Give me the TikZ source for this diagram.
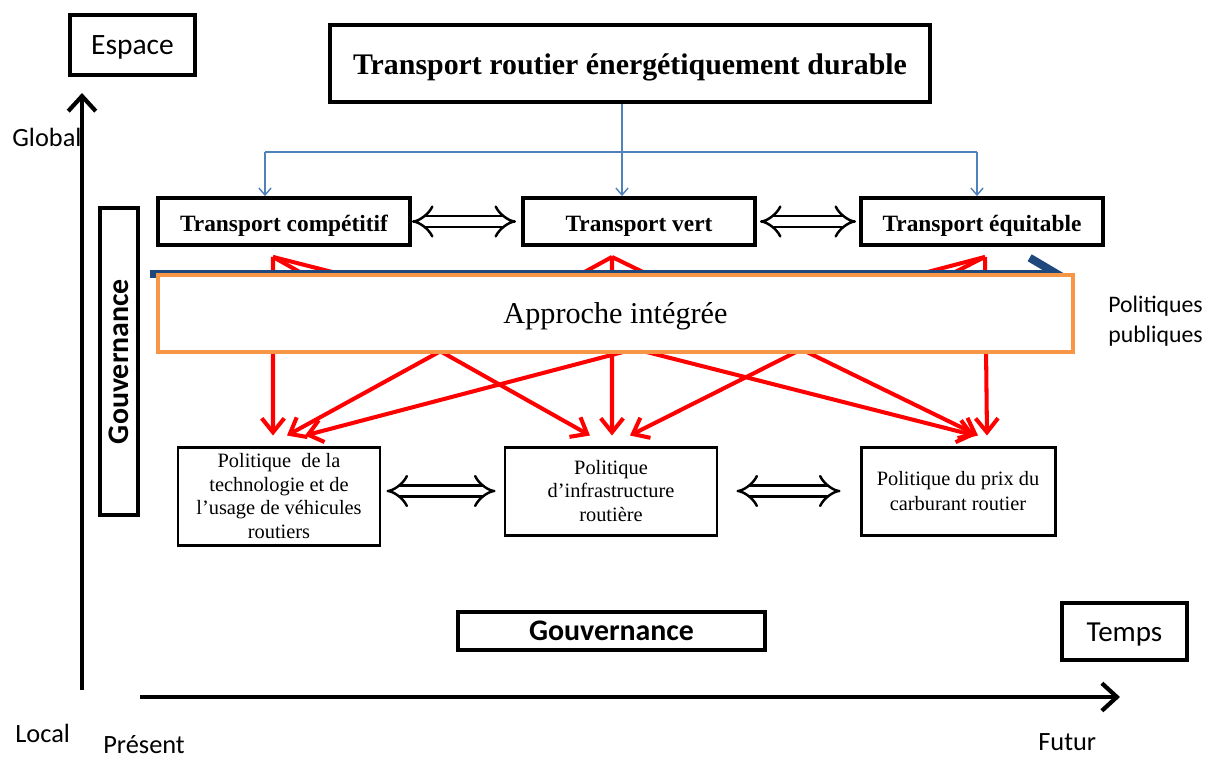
\documentclass[tikz,border=0pt]{standalone}
\usepackage{fontspec}
\setmainfont{Liberation Serif}
\newfontfamily\calibri{Carlito}
\usetikzlibrary{arrows.meta}
\definecolor{orangeapp}{HTML}{F79646}
\definecolor{bleulien}{HTML}{4F81BD}
\definecolor{bleufonce}{HTML}{1F497D}

\begin{document}
\begin{tikzpicture}[
    boite/.style={draw, line width=2.2pt, inner sep=0pt, align=center},
    mince/.style={draw, line width=1.7pt, inner sep=0pt, align=center, font=\fontsize{11.6}{13.6}\selectfont},
    gras/.style={font=\bfseries\fontsize{13.3}{16}\selectfont, text height=11pt, text depth=0pt},
    etiquette/.style={inner sep=0pt, font=\calibri\fontsize{15}{18}\selectfont},
    axe/.style={line width=2.4pt, -{Straight Barb[length=0.3cm,width=0.55cm]}},
    lien/.style={bleulien, line width=0.8pt, -{Straight Barb[length=4pt,width=7pt]}},
    fleche/.style={red, line width=2.3pt, -{Straight Barb[length=0.28cm,width=0.45cm]}},
    echange/.style={double, double distance=5pt, line width=1.4pt, {Implies[length=9pt,width=17pt]}-{Implies[length=9pt,width=17pt]}},
  ]
  \useasboundingbox (0,0) rectangle (24.38,-15.2);

  % Axes espace / temps
  \node[etiquette, anchor=west] (global) at (0.24,-2.74) {Global};
  \node[etiquette, anchor=west] (local) at (0.3,-14.66) {Local};
  \node[etiquette, anchor=west] (present) at (2.06,-14.9) {Présent};
  \node[etiquette, anchor=west] (futur) at (20.76,-14.84) {Futur};
  \coordinate (o) at (1.64,-13.8);
  \coordinate (haut) at (1.64,-1.86);
  \coordinate (t0) at (2.8,-13.94);
  \coordinate (t1) at (22.4,-13.94);
  \draw[axe] (o) -- (haut);
  \draw[axe] (t0) -- (t1);
  \node[boite, minimum width=2.5cm, minimum height=1.2cm, text height=11pt, text depth=0pt, font=\calibri\fontsize{16.8}{20}\selectfont] (espace) at (2.65,-0.9) {Espace};
  \node[boite, minimum width=2.5cm, minimum height=1.14cm, text height=11pt, text depth=0pt, font=\calibri\fontsize{16.5}{20}\selectfont] (temps) at (22.49,-12.63) {Temps};

  % Gouvernance
  \node[boite, rotate=90, minimum width=6.14cm, minimum height=0.76cm, font=\calibri\bfseries\fontsize{17}{20}\selectfont] (gv) at (2.38,-7.23) {Gouvernance};
  \node[boite, minimum width=6.14cm, minimum height=0.76cm, font=\calibri\bfseries\fontsize{17}{20}\selectfont] (gh) at (12.23,-12.62) {Gouvernance};

  % Objectif et dimensions
  \node[boite, minimum width=12cm, minimum height=1.54cm, text height=13pt, text depth=0pt, font=\bfseries\fontsize{17}{20}\selectfont] (titre) at (12.6,-1.27) {Transport routier énergétiquement durable};
  \node[boite, gras, minimum width=5.04cm, minimum height=0.94cm] (tc) at (5.68,-4.43) {Transport compétitif};
  \node[boite, gras, minimum width=4.64cm, minimum height=0.94cm] (tv) at (12.78,-4.43) {Transport vert};
  \node[boite, gras, minimum width=4.84cm, minimum height=0.94cm] (te) at (19.64,-4.43) {Transport équitable};
  \coordinate (bg) at (5.3,-3.04);
  \coordinate (bd) at (19.54,-3.04);
  \draw[lien, -] (bg) -- (bd);
  \draw[lien] ([xshift=-0.16cm]titre.south) -- ([xshift=-0.34cm]tv.north);
  \draw[lien] (bg) -- (bg |- tc.north);
  \draw[lien] (bd) -- (bd |- te.north);

  % Politiques
  \node[mince, minimum width=4.04cm, minimum height=1.96cm] (pb1) at (5.58,-9.92) {Politique~ de la\\technologie et de\\l’usage de véhicules\\routiers};
  \node[mince, minimum width=4.24cm, minimum height=1.76cm] (pb2) at (12.22,-9.82) {Politique\\d’infrastructure\\routière};
  \node[mince, minimum width=3.88cm, minimum height=1.76cm, font=\fontsize{11.6}{14.2}\selectfont] (pb3) at (19.16,-9.82) {Politique du prix du\\carburant routier};

  % Liens rouges
  \coordinate (s1) at ([xshift=-0.22cm,yshift=-0.2cm]tc.south);
  \coordinate (s2) at ([xshift=-0.54cm,yshift=-0.2cm]tv.south);
  \coordinate (s3) at ([xshift=0.06cm,yshift=-0.2cm]te.south);
  \coordinate (c11) at ([xshift=-0.12cm,yshift=0.2cm]pb1.north);
  \coordinate (c12) at ([xshift=0.16cm,yshift=0.2cm]pb1.north);
  \coordinate (c13) at ([xshift=0.52cm,yshift=0.2cm]pb1.north);
  \coordinate (c21) at ([xshift=-0.42cm,yshift=0.2cm]pb2.north);
  \coordinate (c22) at ([xshift=0.02cm,yshift=0.2cm]pb2.north);
  \coordinate (c23) at ([xshift=0.38cm,yshift=0.2cm]pb2.north);
  \coordinate (c31) at ([xshift=0.34cm,yshift=0.2cm]pb3.north);
  \coordinate (c32) at ([xshift=0.4cm,yshift=0.2cm]pb3.north);
  \coordinate (c33) at ([xshift=0.58cm,yshift=0.2cm]pb3.north);
  \foreach \i in {1,2,3}
    \foreach \j in {1,2,3}
      \draw[fleche] (s\i) -- (c\j\i);

  % Politiques publiques
  \coordinate (p0) at (3.0,-5.48);
  \coordinate (p1) at (21.3,-5.48);
  \draw[bleufonce, line width=0.16cm, -{Straight Barb[length=0.55cm,width=0.65cm]}] (p0) -- (p1);
  \node[etiquette, anchor=west, align=left, font=\calibri\fontsize{13.5}{17}\selectfont] (pp) at (22.16,-6.42) {Politiques\\publiques};

  \node[draw=orangeapp, line width=2pt, fill=white, minimum width=18.3cm, minimum height=1.54cm, text height=11pt, text depth=0pt, font=\fontsize{17.2}{20}\selectfont] (approche) at (12.31,-6.27) {Approche intégrée};

  % Echanges
  \draw[echange, shorten >=0.1cm] (tc) -- (tv);
  \draw[echange, shorten <=0.06cm, shorten >=0.06cm] (tv) -- (te);
  \draw[echange, shorten <=0.1cm, shorten >=0.16cm] (pb2.west -| pb1.east) -- (pb2.west);
  \draw[echange, shorten <=0.36cm, shorten >=0.38cm] (pb2) -- (pb3);
\end{tikzpicture}
\end{document}
